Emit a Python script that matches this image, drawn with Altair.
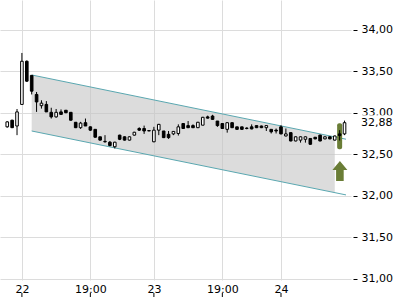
import altair as alt
import pandas as pd

# ---- data ----
opens = [32.83, 32.91, 32.84, 33.10, 33.62, 33.45, 33.22, 33.085, 33.10, 33.005,
         32.95, 33.01, 33.03, 33.005, 32.885, 32.82, 32.88, 32.83, 32.80, 32.71,
         32.655, 32.645, 32.59, 32.73, 32.71, 32.67, 32.73, 32.81, 32.81, 32.785,
         32.65, 32.79, 32.78, 32.74, 32.745, 32.75, 32.87, 32.845, 32.845, 32.82,
         32.85, 32.95, 32.96, 32.90, 32.87, 32.80, 32.88, 32.83, 32.83, 32.815,
         32.83, 32.845, 32.84, 32.82, 32.80, 32.79, 32.83, 32.72, 32.76, 32.66,
         32.67, 32.68, 32.69, 32.705, 32.73, 32.685, 32.71, 32.67, 32.745, 32.745]
closes = [32.89, 32.82, 33.01, 33.62, 33.38, 33.26, 33.13, 33.115, 33.01, 32.95,
          33.005, 32.98, 33.00, 32.91, 32.82, 32.875, 32.84, 32.79, 32.705, 32.67,
          32.65, 32.605, 32.645, 32.68, 32.67, 32.71, 32.765, 32.79, 32.78, 32.78,
          32.79, 32.86, 32.70, 32.70, 32.775, 32.83, 32.81, 32.82, 32.82, 32.885,
          32.945, 32.935, 32.92, 32.845, 32.81, 32.88, 32.82, 32.80, 32.80, 32.81,
          32.805, 32.82, 32.82, 32.845, 32.77, 32.78, 32.745, 32.745, 32.66, 32.71,
          32.71, 32.71, 32.62, 32.685, 32.66, 32.71, 32.685, 32.72, 32.725, 32.88]
highs = [32.90, 32.915, 33.045, 33.72, 33.63, 33.45, 33.25, 33.15, 33.14, 33.06,
         33.045, 33.04, 33.03, 33.005, 32.885, 32.89, 32.93, 32.835, 32.80, 32.71,
         32.73, 32.66, 32.65, 32.735, 32.715, 32.715, 32.77, 32.825, 32.845, 32.79,
         32.83, 32.865, 32.78, 32.78, 32.78, 32.86, 32.875, 32.90, 32.86, 32.89,
         32.95, 32.965, 32.975, 32.90, 32.875, 32.885, 32.885, 32.83, 32.83, 32.825,
         32.86, 32.845, 32.845, 32.845, 32.80, 32.81, 32.85, 32.81, 32.76, 32.715,
         32.715, 32.715, 32.695, 32.705, 32.735, 32.715, 32.715, 32.725, 32.79, 32.905]
lows = [32.82, 32.815, 32.73, 33.10, 33.37, 33.22, 33.01, 33.05, 33.01, 32.93,
        32.94, 32.98, 32.995, 32.905, 32.815, 32.805, 32.84, 32.78, 32.70, 32.665,
        32.64, 32.595, 32.57, 32.67, 32.665, 32.665, 32.725, 32.78, 32.745, 32.78,
        32.645, 32.73, 32.695, 32.685, 32.73, 32.725, 32.81, 32.815, 32.815, 32.815,
        32.85, 32.93, 32.915, 32.83, 32.81, 32.76, 32.815, 32.795, 32.795, 32.80,
        32.80, 32.815, 32.815, 32.78, 32.75, 32.75, 32.74, 32.715, 32.655, 32.655,
        32.64, 32.64, 32.615, 32.68, 32.655, 32.68, 32.68, 32.665, 32.665, 32.73]

tick_pos = [3, 17, 30, 44, 56]
tick_labels = ["22", "19:00", "23", "19:00", "24"]
y_ticks = [31.0, 31.5, 32.0, 32.5, 33.0, 33.5, 34.0]

# trend channel (candle index, upper, lower)
fill_x = [5, 67]
fill_upper = [33.455, 32.709]
fill_lower = [32.780, 32.038]
line_x = [5, 69.3]
line_upper = [33.455, 32.681]
line_lower = [32.780, 32.010]

# signal marker (green bar and arrow)
signal_x = [68]
signal_top = [32.873]
signal_bottom = [32.559]
arrow_x = [68.05]
arrow_y = [32.298]

# ---- tables ----
n = len(opens)
candles = pd.DataFrame({
    "i": list(range(n)), "open": opens, "close": closes, "high": highs, "low": lows,
})
candles["fill"] = ["white" if c >= o else "black" for o, c in zip(opens, closes)]

fill_df = pd.DataFrame({"i": fill_x, "up": fill_upper, "lo": fill_lower})
up_df = pd.DataFrame({"i": line_x, "v": line_upper})
lo_df = pd.DataFrame({"i": line_x, "v": line_lower})
sig_df = pd.DataFrame({"i": signal_x, "top": signal_top, "bot": signal_bottom})
arr_df = pd.DataFrame({"i": arrow_x, "v": arrow_y})
ticks_df = pd.DataFrame({"i": tick_pos})
last_df = pd.DataFrame({"v": [closes[-1]],
                        "t": [f"{closes[-1]:.2f}".replace(".", ",")]})

W, H = 351, 280
xs = alt.Scale(domain=[-0.46, 69.3], nice=False, zero=False)
ys = alt.Scale(domain=[30.985, 34.358], nice=False, zero=False)

label_map = "{" + ",".join(f"'{p}':'{l}'" for p, l in zip(tick_pos, tick_labels)) + "}"
x_axis = alt.Axis(values=tick_pos, labelExpr=f"{label_map}[datum.value]", title=None,
                  ticks=False, domain=False, grid=True, labelPadding=3,
                  labelFlush=False, labelOverlap=False)
y_axis = alt.Axis(orient="right", values=y_ticks, title=None, domain=False,
                  ticks=True, tickSize=4, tickColor="black", offset=2,
                  labelPadding=4, labelFlush=False, labelOverlap=False,
                  labelExpr="replace(format(datum.value, '.2f'), '.', ',')")


def X(f="i"):
    return alt.X(f"{f}:Q", scale=xs, axis=x_axis)


def Y(f):
    return alt.Y(f"{f}:Q", scale=ys, axis=y_axis)


area = alt.Chart(fill_df).mark_area(color="#c4c4c4", opacity=0.6).encode(
    x=X(), y=Y("up"), y2="lo:Q")
upper = alt.Chart(up_df).mark_line(color="#5aa7b0", strokeWidth=1).encode(x=X(), y=Y("v"))
lower = alt.Chart(lo_df).mark_line(color="#5aa7b0", strokeWidth=1).encode(x=X(), y=Y("v"))

sig = alt.Chart(sig_df).mark_bar(width=5, color="#6a7d36", cornerRadius=2).encode(
    x=X(), y=Y("top"), y2="bot:Q")
arrow_path = ("M0,-1 L0.75,-0.1 L0.38,-0.1 L0.38,1 L-0.38,1 L-0.38,-0.1 "
              "L-0.75,-0.1 Z")
arrow = alt.Chart(arr_df).mark_point(shape=arrow_path, filled=True, size=400,
                                     color="#6a7d36", opacity=1, strokeWidth=0).encode(
    x=X(), y=Y("v"))

wicks = alt.Chart(candles).mark_rule(color="black", strokeWidth=1).encode(
    x=X(), y=Y("low"), y2="high:Q")
bodies = alt.Chart(candles).mark_bar(width=2.6, stroke="black", strokeWidth=1).encode(
    x=X(), y=Y("open"), y2="close:Q", fill=alt.Fill("fill:N", scale=None))

box = alt.Chart(last_df).mark_point(
    shape="M-1,-0.36 L1,-0.36 L1,0.36 L-1,0.36 Z", filled=True, size=42 * 42,
    color="white", opacity=1, strokeWidth=0).encode(
    x=alt.value(W + 27), y=Y("v"))
last_txt = alt.Chart(last_df).mark_text(align="left", baseline="middle", fontSize=11,
                                        font="DejaVu Sans", color="black").encode(
    x=alt.value(W + 10), y=Y("v"), text="t:N")

xticks = alt.Chart(ticks_df).mark_rule(color="black", strokeWidth=1).encode(
    x=X(), y=alt.value(H + 13), y2=alt.value(H + 17))

chart = alt.layer(area, upper, lower, sig, arrow, wicks, bodies, box, last_txt, xticks).properties(
    width=W, height=H, padding=0
).configure_view(stroke=None).configure_axis(
    labelFont="DejaVu Sans", labelFontSize=11, labelColor="black",
    gridColor="#dcdcdc", gridWidth=1
)

chart.save("out.html", embed_options={"renderer": "svg", "actions": False})
